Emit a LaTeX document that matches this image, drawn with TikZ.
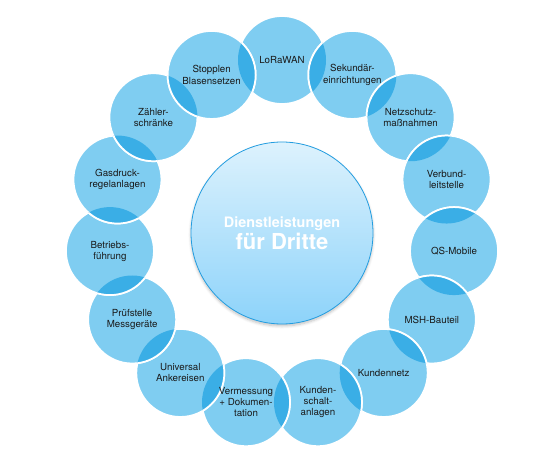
\documentclass[tikz,border=0pt]{standalone}
\usepackage{fontspec}
\setmainfont{TeX Gyre Heros}
\usetikzlibrary{calc, shadows.blur}
\definecolor{dtlight}{HTML}{7FCDF1}
\definecolor{dtdark}{HTML}{3AAEE6}
\definecolor{dttop}{HTML}{DDF2FD}
\definecolor{dtbottom}{HTML}{8DD3FA}
\definecolor{dtrim}{HTML}{239DE0}
\definecolor{dttext}{HTML}{1A1A1A}

\begin{document}
\begin{tikzpicture}[x=0.75pt, y=0.75pt, font=\fontsize{7.3}{8.3}\selectfont, line join=round,
                    bubble/.style={fill=dtlight, draw=white, line width=1.3pt},
                    lens/.style={fill=dtdark, draw=white, line width=1.3pt},
                    bubtext/.style={text=dttext, align=center, inner sep=0pt},
                    hub/.style={circle, minimum size=136.5pt, inner sep=0pt,
                                top color=dttop, bottom color=dtbottom, draw=dtrim, line width=0.6pt,
                                blur shadow={shadow blur steps=6, shadow xshift=0pt,
                                             shadow yshift=-1.5pt, shadow opacity=25},
                                text=white, align=center, font=\bfseries}]
  \useasboundingbox (0,0) rectangle (560,468);
  \coordinate (mid) at (282,235);
  % ring of bubbles, clockwise from the top
  \foreach \i in {1,...,15}
    \coordinate (p\i) at ($(mid)+({114-24*\i}:173)$);
  \foreach \i in {1,...,15}
    \path[bubble] (p\i) circle (33pt);
  % darker overlaps, the later bubble lies on top
  \foreach \lo/\hi in {1/2,2/3,3/4,4/5,5/6,6/7,7/8,8/9,9/10,10/11,11/12,12/13,13/14,14/15,1/15} {
    \begin{scope}
      \clip (p\lo) circle (33pt);
      \path[lens] (p\hi) circle (33pt);
    \end{scope}}
  % labels
  \foreach \txt [count=\i] in {LoRaWAN, {Sekundär-\\einrichtungen}, {Netzschutz-\\maßnahmen},
                               {Verbund-\\leitstelle}, QS-Mobile, MSH-Bauteil, Kundennetz,
                               {Kunden-\\schalt-\\anlagen}, {Vermessung\\+ Dokumen-\\tation},
                               {Universal\\Ankereisen}, {Prüfstelle\\Messgeräte},
                               {Betriebs-\\führung}, {Gasdruck-\\regelanlagen},
                               {Zähler-\\schränke}, {Stopplen\\Blasensetzen}}
    \node[bubtext] (t\i) at (p\i) {\txt};
  \node[hub] (hub) at (mid) {{\fontsize{10.8}{13}\selectfont Dienstleistungen}\\[1pt]
                             {\fontsize{16.5}{16}\selectfont für Dritte}};
\end{tikzpicture}
\end{document}
